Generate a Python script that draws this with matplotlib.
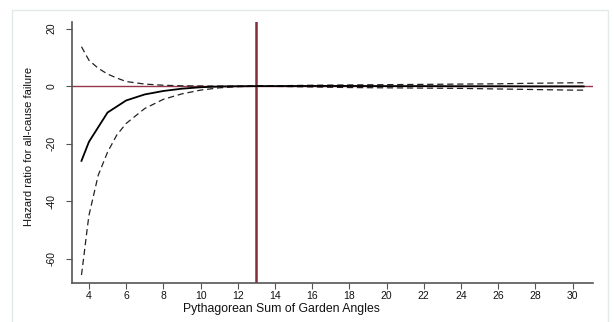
import matplotlib
matplotlib.use("Agg")
import matplotlib.pyplot as plt
from matplotlib.patches import Rectangle

plt.rcParams['font.family'] = ['Liberation Sans', 'DejaVu Sans']
plt.rcParams['axes.unicode_minus'] = False

# hazard ratio estimate and 95% band
x_vals = [3.6, 4.0, 5.0, 6.0, 7.0, 8.0, 9.0, 10.0, 11.0, 12.0,
          13.0, 14.0, 16.0, 18.0, 20.0, 22.0, 24.0, 26.0, 28.0, 30.0, 30.6]
hr_est = [-26.0, -19.4, -9.2, -5.0, -2.9, -1.7, -0.9, -0.4, -0.15, -0.05,
          0.0, 0.0, 0.05, 0.05, 0.0, 0.0, -0.05, -0.05, -0.1, -0.1, -0.1]
ci_low_x = [3.6, 3.75, 3.9, 4.0, 4.5, 5.0, 5.5, 6.0, 7.0, 8.0, 9.0, 10.0, 11.0, 12.0,
            13.0, 14.0, 16.0, 18.0, 20.0, 22.0, 24.0, 26.0, 28.0, 30.0, 30.6]
ci_low = [-65.7, -58.0, -50.0, -45.0, -31.0, -23.0, -17.0, -13.0, -7.8, -4.6, -2.7, -1.4, -0.6, -0.2,
          -0.05, -0.1, -0.3, -0.5, -0.6, -0.7, -0.8, -1.0, -1.2, -1.4, -1.4]
ci_high_x = [3.6, 4.0, 4.5, 5.0, 5.5, 6.0, 7.0, 8.0, 9.0, 10.0, 11.0, 12.0,
             13.0, 14.0, 16.0, 18.0, 20.0, 22.0, 24.0, 26.0, 28.0, 30.0, 30.6]
ci_high = [13.7, 9.0, 6.2, 4.2, 2.8, 1.6, 0.7, 0.3, 0.1, 0.05, 0.0, 0.0,
           0.05, 0.1, 0.3, 0.4, 0.5, 0.6, 0.7, 0.8, 1.0, 1.15, 1.15]

x_ticks = list(range(4, 31, 2))
y_ticks = [20, 0, -20, -40, -60]
cut_point = 13

fig = plt.figure(figsize=(6.14, 3.22), dpi=100)
fig.patches.append(Rectangle((12 / 614, -0.1), 596 / 614, 1.1 - 10 / 322,
                             transform=fig.transFigure, fill=False,
                             edgecolor='#e3e8ea', linewidth=1.0))
ax = fig.add_axes([72 / 614, 1 - 283 / 322, (593 - 72) / 614, (283 - 22) / 322])

ax.axhline(0, color='#96364a', linewidth=1.0, zorder=1)
ax.axvline(cut_point, color='#852c3a', linewidth=1.8, zorder=1)

ax.plot(ci_high_x, ci_high, color='#222222', linestyle=(0, (5, 3)), linewidth=0.9, zorder=2)
ax.plot(ci_low_x, ci_low, color='#222222', linestyle=(0, (5, 3)), linewidth=0.9, zorder=2)
ax.plot(x_vals, hr_est, color='black', linewidth=1.3, zorder=3)

ax.set_xlim(3.09, 31.1)
ax.set_ylim(-68.5, 22.3)
ax.set_xticks(x_ticks)
ax.set_yticks(y_ticks)
ax.set_yticklabels([str(v) for v in y_ticks], rotation=90, va='center')

for side in ['top', 'right']:
    ax.spines[side].set_visible(False)
for side in ['left', 'bottom']:
    ax.spines[side].set_color('#555555')
    ax.spines[side].set_linewidth(1.2)
ax.tick_params(direction='out', length=4, width=0.8, color='#555555',
               labelsize=7.5, labelcolor='#111111')
ax.tick_params(axis='x', pad=2)
ax.tick_params(axis='y', pad=7)

ax.set_xlabel('Pythagorean Sum of Garden Angles', fontsize=8.8, color='#111111', labelpad=1)
ax.xaxis.set_label_coords((281 - 72) / (593 - 72), -0.075)
ax.set_ylabel('Hazard ratio for all-cause failure', fontsize=8, color='#111111')
ax.yaxis.set_label_coords(-(72 - 34) / (593 - 72), 0.525)

fig.savefig('out.png', dpi=100)
